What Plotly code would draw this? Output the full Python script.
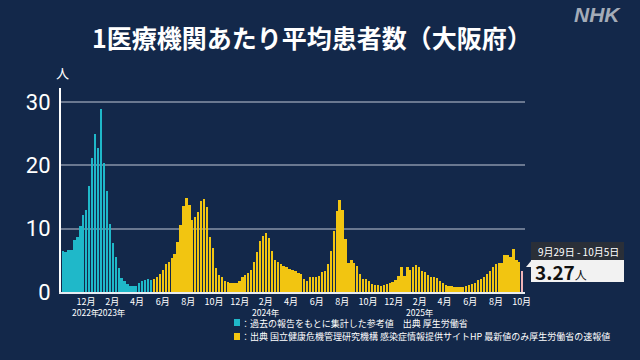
import pandas as pd
import plotly.graph_objects as go

# ---- data (weekly, Monday start) ----
ref_start = "2022-10-03"   # first week of reference (cyan) series
ref_values = [6.5, 6.3, 6.6, 6.7, 8.2, 8.7, 10.4, 12.2, 12.9, 16.7, 21.1, 24.9, 22.7, 28.9,
              20.3, 15.9, 10.8, 7.7, 5.6, 3.8, 2.2, 1.7, 1.3, 1.0, 1.0, 1.0, 1.4, 1.7, 1.9,
              2.0, 1.9]
new_start = "2023-05-08"   # first week of new (yellow) series
new_values = [2.0, 2.4, 2.9, 3.5, 4.4, 4.8, 5.3, 6.0, 7.9, 10.6, 13.5, 14.8, 13.7, 11.3,
              11.9, 12.6, 14.3, 14.7, 13.4, 8.7, 6.9, 3.8, 2.7, 2.3, 1.8, 1.6, 1.35, 1.35,
              1.45, 1.8, 2.3, 2.7, 3.0, 3.4, 4.7, 6.3, 8.0, 8.9, 9.3, 8.5, 6.5, 5.1, 4.7,
              4.4, 4.1, 3.9, 3.7, 3.5, 3.3, 3.0, 2.8, 2.0, 1.8, 2.4, 2.4, 2.4, 2.5, 3.2,
              3.3, 4.4, 6.5, 9.7, 12.8, 14.6, 12.9, 8.4, 4.6, 5.1, 4.5, 4.1, 2.9, 2.1, 2.0,
              1.7, 1.3, 1.15, 1.05, 0.95, 1.1, 1.25, 1.5, 1.6, 1.9, 2.6, 3.9, 2.5, 3.9,
              3.4, 3.9, 4.3, 4.0, 3.3, 3.1, 2.7, 2.4, 2.3, 2.2, 1.8, 1.4, 1.15, 1.0, 0.9,
              0.85, 0.8, 0.8, 0.85, 0.95, 1.1, 1.25, 1.4, 1.9, 2.0, 2.4, 2.8, 3.3, 3.9,
              4.4, 4.6, 4.6, 5.9, 5.8, 5.6, 6.8, 5.0, 4.7, 3.27]
tick_dates = ["2022-12-01", "2023-02-01", "2023-04-01", "2023-06-01", "2023-08-01",
              "2023-10-01", "2023-12-01", "2024-02-01", "2024-04-01", "2024-06-01",
              "2024-08-01", "2024-10-01", "2024-12-01", "2025-02-01", "2025-04-01",
              "2025-06-01", "2025-08-01", "2025-10-01"]
tick_text = ["12月", "2月", "4月", "6月", "8月", "10月", "12月", "2月", "4月", "6月", "8月",
             "10月", "12月", "2月", "4月", "6月", "8月", "10月"]
year_dates = ["2022-12-01", "2023-02-01", "2024-02-01", "2025-02-01"]
year_text = ["2022年", "2023年", "2024年", "2025年"]
latest_label = "9月29日 - 10月5日"
latest_value = "3.27"
title_text = "1医療機関あたり平均患者数（大阪府）"
legend_ref = "：過去の報告をもとに集計した参考値　出典 厚生労働省"
legend_new = "：出典 国立健康危機管理研究機構 感染症情報提供サイトHP 最新値のみ厚生労働省の速報値"

# ---- styling ----
BG = "#13284a"
CYAN = "#1fb8c9"
YELLOW = "#f2c511"
PINK = "#f0b4b8"
FONT = "Noto Sans CJK JP"
W, H = 640, 360
L, R, T, B = 61, 525, 88, 292

def px(x):
    return (x - L) / (R - L)

def py(y):
    return (B - y) / (B - T)

offset = pd.Timedelta(days=3, hours=12)
ref_x = pd.date_range(ref_start, periods=len(ref_values), freq="7D") + offset
new_x = pd.date_range(new_start, periods=len(new_values), freq="7D") + offset
week_ms = 7 * 24 * 3600 * 1000 * 0.78

new_colors = [YELLOW] * (len(new_values) - 1) + [PINK]

fig = go.Figure()
fig.add_trace(go.Bar(x=ref_x, y=ref_values, marker=dict(color=CYAN, line=dict(width=0)),
                     width=week_ms, showlegend=False))
fig.add_trace(go.Bar(x=new_x, y=new_values, marker=dict(color=new_colors, line=dict(width=0)),
                     width=week_ms, showlegend=False))

fig.update_layout(
    width=W, height=H,
    margin=dict(l=L, r=W - R, t=T, b=H - B, autoexpand=False),
    paper_bgcolor=BG, plot_bgcolor=BG,
    font=dict(family=FONT, color="white"),
    bargap=0,
    xaxis=dict(type="date", range=["2022-10-02 12:00", "2025-10-09"],
               tickvals=tick_dates, ticktext=tick_text, showgrid=False, tickangle=0,
               tickfont=dict(size=9, color="white", family=FONT), automargin=False,
               showline=True, linecolor="#e8ecf2", linewidth=2, ticks="", zeroline=False,
               ticklabelstandoff=0),
    yaxis=dict(range=[0, 32.2], tickvals=[0, 10, 20, 30], ticktext=["0", "10", "20", "30"],
               tickfont=dict(size=22, color="white", family="Roboto"), automargin=False,
               showgrid=True, gridcolor="#6a7890", gridwidth=2,
               showline=True, linecolor="white", linewidth=2, ticks="", zeroline=False,
               ticklabelstandoff=4),
)

ann = []
ann.append(dict(x=px(312), y=py(37), xref="paper", yref="paper", text=f"<b>{title_text}</b>",
                showarrow=False, font=dict(size=25, color="white", family=FONT),
                xanchor="center", yanchor="middle"))
ann.append(dict(x=px(597), y=py(15), xref="paper", yref="paper", text="<b><i>NHK</i></b>",
                showarrow=False, font=dict(size=21, color="#a4acb8", family="Liberation Sans"),
                xanchor="center", yanchor="middle"))
ann.append(dict(x=px(62), y=py(72), xref="paper", yref="paper", text="人",
                showarrow=False, font=dict(size=13, color="white", family=FONT),
                xanchor="center", yanchor="middle"))
for d, t in zip(year_dates, year_text):
    ann.append(dict(x=d, y=py(312), xref="x", yref="paper", text=t, showarrow=False,
                    font=dict(size=8.5, color="white", family=FONT), borderpad=0,
                    xanchor="center", yanchor="middle"))
# legend
ann.append(dict(x=px(239), y=py(323), xref="paper", yref="paper", text=legend_ref,
                showarrow=False, font=dict(size=9, color="white", family=FONT),
                xanchor="left", yanchor="middle"))
ann.append(dict(x=px(239), y=py(336), xref="paper", yref="paper", text=legend_new,
                showarrow=False, font=dict(size=9, color="white", family=FONT),
                xanchor="left", yanchor="middle"))
# latest value box
ann.append(dict(x=px(578), y=py(251), xref="paper", yref="paper", text=latest_label,
                showarrow=False, font=dict(size=10, color="white", family=FONT),
                xanchor="center", yanchor="middle"))
ann.append(dict(x=px(533), y=py(271), xref="paper", yref="paper",
                text=f"<b>{latest_value}</b><span style='font-size:12px'>人</span>",
                showarrow=False, font=dict(size=19, color="#111111", family=FONT),
                xanchor="left", yanchor="middle"))

shapes = []
shapes.append(dict(type="rect", xref="paper", yref="paper", x0=px(234), x1=px(240),
                   y0=py(326), y1=py(319), fillcolor=CYAN, line=dict(width=0)))
shapes.append(dict(type="rect", xref="paper", yref="paper", x0=px(234), x1=px(240),
                   y0=py(340), y1=py(333), fillcolor=YELLOW, line=dict(width=0)))
shapes.append(dict(type="rect", xref="paper", yref="paper", x0=px(531), x1=px(624),
                   y0=py(260), y1=py(242), fillcolor="#2a2f38", line=dict(width=0)))
shapes.append(dict(type="rect", xref="paper", yref="paper", x0=px(531), x1=px(624),
                   y0=py(282), y1=py(260), fillcolor="#f2f2f2", line=dict(width=0)))
tri = f"M {px(531)} {py(261)} L {px(526)} {py(267)} L {px(531)} {py(267)} Z"
shapes.append(dict(type="path", xref="paper", yref="paper", path=tri,
                   fillcolor="#f2f2f2", line=dict(width=0)))

fig.update_layout(annotations=ann, shapes=shapes)
fig.write_html("out.html", config={"displayModeBar": False, "staticPlot": True},
               post_script="document.body.style.margin='0';document.body.style.background='%s';" % BG)
